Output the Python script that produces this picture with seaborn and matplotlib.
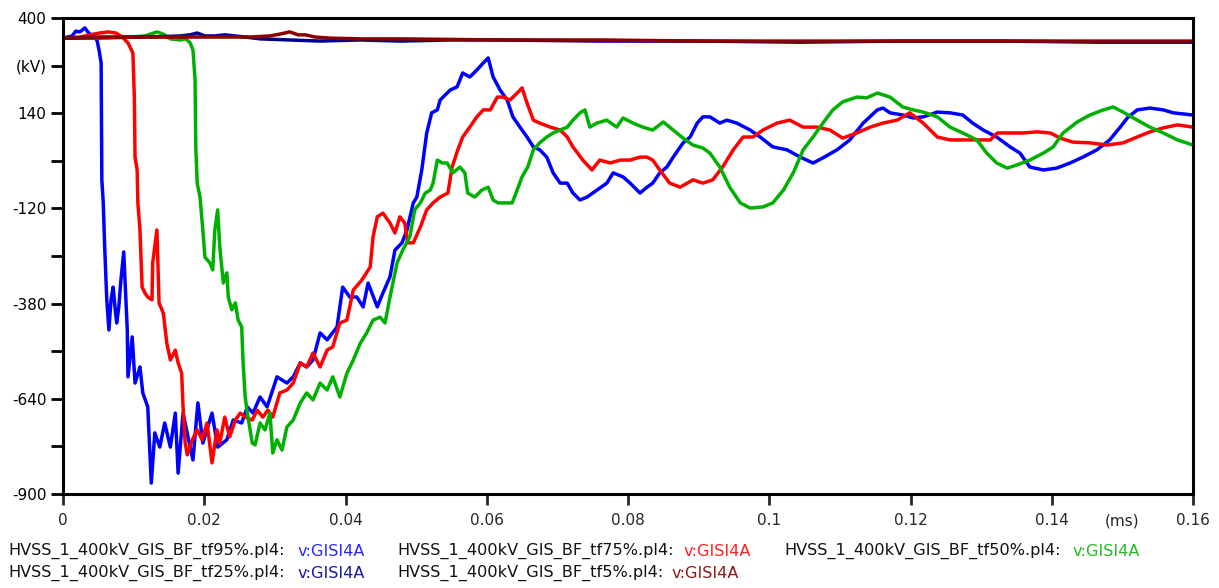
import matplotlib
matplotlib.use("Agg")
import matplotlib.pyplot as plt
import seaborn as sns
import pandas as pd

# Time axis in ms, voltage at GISI4A in kV, one trace per front-time case
t95 = [0, 0.0013, 0.0018, 0.0024, 0.0031, 0.0035, 0.0041, 0.0045, 0.0048, 0.0051, 0.0054, 0.0055,
       0.0057, 0.0059, 0.0062, 0.0065, 0.0068, 0.0071, 0.0074, 0.0076, 0.0079, 0.0082, 0.0086,
       0.0091, 0.0092, 0.0098, 0.0102, 0.0109, 0.0113, 0.0120, 0.0125, 0.0130, 0.0137, 0.0144,
       0.0152, 0.0159, 0.0163, 0.0170, 0.0177, 0.0184, 0.0191, 0.0198, 0.0211, 0.0219, 0.0232,
       0.0241, 0.0253, 0.0261, 0.0269, 0.0279, 0.0289, 0.0303, 0.0317, 0.0326, 0.0336, 0.0345,
       0.0354, 0.0364, 0.0374, 0.0388, 0.0396, 0.0406, 0.0416, 0.0425, 0.0432, 0.0445, 0.0453,
       0.0463, 0.0470, 0.0480, 0.0487, 0.0496, 0.0501, 0.0508, 0.0515, 0.0522, 0.0530, 0.0534,
       0.0544, 0.0548, 0.0558, 0.0566, 0.0576, 0.0586, 0.0595, 0.0602, 0.0609, 0.0619, 0.0629,
       0.0637, 0.0647, 0.0657, 0.0666, 0.0675, 0.0685, 0.0694, 0.0704, 0.0714, 0.0722, 0.0732,
       0.0742, 0.0756, 0.0770, 0.0779, 0.0793, 0.0803, 0.0817, 0.0827, 0.0835, 0.0845, 0.0855,
       0.0864, 0.0878, 0.0888, 0.0898, 0.0906, 0.0916, 0.0930, 0.0940, 0.0954, 0.0973, 0.0987,
       0.1005, 0.1025, 0.1044, 0.1062, 0.1076, 0.1096, 0.1114, 0.1133, 0.1153, 0.1161, 0.1171,
       0.1189, 0.1204, 0.1218, 0.1238, 0.1256, 0.1274, 0.1288, 0.1303, 0.1322, 0.1341, 0.1355,
       0.1369, 0.1388, 0.1407, 0.1426, 0.1444, 0.1464, 0.1482, 0.1497, 0.1507, 0.1521, 0.1539,
       0.1558, 0.1572, 0.1600]
v95 = [345, 351, 364, 362, 373, 362, 351, 345, 340, 313, 277, -42,
       -105, -225, -370, -452, -370, -335, -397, -433, -389, -316, -239,
       -452, -580, -471, -597, -553, -624, -662, -870, -733, -772, -706,
       -772, -679, -843, -679, -744, -807, -651, -761, -679, -772, -752,
       -698, -706, -662, -679, -635, -662, -580, -597, -580, -542, -553,
       -534, -460, -479, -444, -335, -362, -362, -389, -324, -389, -351,
       -307, -234, -214, -179, -105, -89, -15, 86, 141, 149, 176,
       195, 203, 212, 250, 239, 258, 277, 291, 239, 203, 176,
       130, 102, 75, 48, 40, 20, -23, -51, -51, -78, -97,
       -89, -70, -51, -23, -34, -51, -78, -62, -51, -23, -7,
       20, 59, 75, 113, 130, 130, 113, 121, 113, 94, 75,
       48, 40, 20, 4, 18, 40, 67, 113, 149, 154, 141,
       135, 127, 130, 143, 141, 135, 113, 94, 75, 48, 31,
       -7, -15, -10, 4, 20, 40, 67, 102, 127, 149, 154,
       149, 141, 135]

t75 = [0, 0.0024, 0.0038, 0.0052, 0.0064, 0.0075, 0.0084, 0.0092, 0.0099, 0.0101, 0.0102, 0.0105,
       0.0106, 0.0109, 0.0112, 0.0116, 0.0120, 0.0126, 0.0127, 0.0133, 0.0136, 0.0142, 0.0147,
       0.0152, 0.0159, 0.0163, 0.0168, 0.0170, 0.0173, 0.0176, 0.0183, 0.0190, 0.0197, 0.0204,
       0.0211, 0.0218, 0.0222, 0.0229, 0.0236, 0.0244, 0.0251, 0.0258, 0.0268, 0.0275, 0.0283,
       0.0290, 0.0297, 0.0307, 0.0317, 0.0326, 0.0336, 0.0345, 0.0354, 0.0364, 0.0374, 0.0382,
       0.0392, 0.0402, 0.0411, 0.0423, 0.0435, 0.0439, 0.0445, 0.0453, 0.0463, 0.0470, 0.0477,
       0.0484, 0.0488, 0.0496, 0.0506, 0.0515, 0.0524, 0.0534, 0.0545, 0.0551, 0.0559, 0.0566,
       0.0576, 0.0586, 0.0595, 0.0605, 0.0615, 0.0623, 0.0633, 0.0643, 0.0650, 0.0657, 0.0666,
       0.0675, 0.0690, 0.0704, 0.0714, 0.0722, 0.0736, 0.0749, 0.0760, 0.0775, 0.0789, 0.0803,
       0.0817, 0.0827, 0.0835, 0.0845, 0.0859, 0.0874, 0.0892, 0.0906, 0.0920, 0.0934, 0.0949,
       0.0963, 0.0977, 0.0991, 0.1011, 0.1029, 0.1048, 0.1068, 0.1086, 0.1104, 0.1124, 0.1143,
       0.1161, 0.1181, 0.1199, 0.1218, 0.1238, 0.1256, 0.1274, 0.1294, 0.1313, 0.1323, 0.1341,
       0.1359, 0.1379, 0.1398, 0.1412, 0.1430, 0.1454, 0.1478, 0.1501, 0.1521, 0.1539, 0.1558,
       0.1578, 0.1600]
v75 = [345, 348, 354, 359, 362, 359, 348, 332, 304, 184, 20, -15,
       -105, -179, -335, -351, -362, -370, -269, -179, -378, -406, -488,
       -534, -507, -542, -570, -662, -761, -793, -752, -725, -752, -706,
       -815, -725, -761, -690, -744, -698, -679, -690, -698, -671, -690,
       -671, -690, -624, -616, -597, -542, -553, -515, -553, -507, -498,
       -433, -425, -343, -316, -280, -198, -143, -133, -160, -187, -143,
       -160, -214, -214, -171, -124, -105, -89, -78, -7, 40, 75,
       102, 130, 149, 149, 184, 184, 176, 195, 209, 168, 121,
       113, 102, 94, 75, 48, 12, -15, 12, 4, 12, 12,
       20, 20, 12, -15, -51, -62, -42, -51, -42, -7, 40,
       75, 75, 94, 113, 121, 102, 102, 94, 72, 86, 102,
       113, 121, 141, 113, 75, 67, 67, 67, 67, 86, 86,
       86, 89, 86, 72, 61, 59, 53, 59, 75, 89, 100,
       108, 102]

t50 = [0, 0.0052, 0.0095, 0.0116, 0.0133, 0.0142, 0.0152, 0.0166, 0.0174, 0.0180, 0.0184, 0.0187,
       0.0188, 0.0190, 0.0194, 0.0198, 0.0201, 0.0208, 0.0212, 0.0215, 0.0219, 0.0222, 0.0227,
       0.0232, 0.0234, 0.0239, 0.0244, 0.0248, 0.0253, 0.0255, 0.0258, 0.0261, 0.0268, 0.0272,
       0.0279, 0.0286, 0.0293, 0.0297, 0.0303, 0.0310, 0.0317, 0.0326, 0.0336, 0.0345, 0.0354,
       0.0364, 0.0374, 0.0382, 0.0392, 0.0402, 0.0411, 0.0421, 0.0430, 0.0439, 0.0449, 0.0456,
       0.0463, 0.0473, 0.0481, 0.0491, 0.0498, 0.0506, 0.0513, 0.0520, 0.0524, 0.0530, 0.0537,
       0.0544, 0.0552, 0.0562, 0.0569, 0.0573, 0.0583, 0.0593, 0.0602, 0.0609, 0.0616, 0.0626,
       0.0636, 0.0643, 0.0650, 0.0658, 0.0666, 0.0675, 0.0685, 0.0694, 0.0704, 0.0714, 0.0722,
       0.0732, 0.0739, 0.0746, 0.0756, 0.0770, 0.0784, 0.0793, 0.0807, 0.0821, 0.0835, 0.0850,
       0.0864, 0.0878, 0.0892, 0.0906, 0.0916, 0.0930, 0.0944, 0.0959, 0.0973, 0.0991, 0.1005,
       0.1020, 0.1034, 0.1048, 0.1062, 0.1076, 0.1090, 0.1104, 0.1124, 0.1138, 0.1153, 0.1171,
       0.1189, 0.1204, 0.1218, 0.1238, 0.1256, 0.1274, 0.1294, 0.1308, 0.1322, 0.1337, 0.1351,
       0.1369, 0.1388, 0.1402, 0.1416, 0.1436, 0.1454, 0.1473, 0.1487, 0.1501, 0.1521, 0.1539,
       0.1558, 0.1578, 0.1600]
v50 = [345, 345, 348, 351, 362, 356, 343, 340, 343, 332, 313, 231,
       48, -51, -89, -179, -253, -269, -288, -179, -124, -225, -324,
       -296, -362, -397, -378, -425, -444, -542, -635, -679, -761, -766,
       -706, -725, -679, -788, -752, -780, -717, -698, -651, -624, -643,
       -597, -616, -580, -635, -570, -534, -488, -460, -425, -417, -433,
       -362, -269, -234, -198, -124, -105, -78, -70, -51, 12, 4,
       4, -23, -7, -23, -78, -89, -70, -62, -97, -105, -105,
       -105, -70, -34, -7, 40, 59, 75, 86, 94, 102, 121,
       141, 149, 102, 113, 121, 102, 127, 113, 102, 94, 116,
       94, 72, 53, 45, 31, -7, -62, -105, -119, -116, -105,
       -70, -23, 40, 75, 113, 149, 171, 184, 182, 195, 184,
       157, 149, 143, 130, 102, 86, 67, 31, 4, -10, -1,
       12, 31, 48, 86, 116, 135, 149, 157, 143, 121, 102,
       86, 67, 53]

t25 = [0, 0.0052, 0.0123, 0.0166, 0.0180, 0.0190, 0.0201, 0.0215, 0.0229, 0.0258, 0.0279, 0.0321,
       0.0364, 0.0421, 0.0477, 0.0548, 0.0619, 0.0760, 0.0902, 0.1044, 0.1185, 0.1327, 0.1468,
       0.1600]
v25 = [345, 348, 348, 351, 354, 359, 351, 351, 354, 348, 343, 340,
       337, 340, 337, 340, 340, 337, 337, 334, 337, 337, 334,
       334]

t5 = [0, 0.0123, 0.0265, 0.0293, 0.0307, 0.0321, 0.0333, 0.0343, 0.0357, 0.0378, 0.0421, 0.0477,
      0.0619, 0.0760, 0.0902, 0.1044, 0.1185, 0.1327, 0.1468, 0.1600]
v5 = [345, 348, 348, 351, 356, 362, 354, 354, 348, 345, 343, 343,
      340, 340, 337, 337, 337, 337, 337, 337]

case_names = ["tf95%", "tf75%", "tf50%", "tf25%", "tf5%"]
case_colors = ["#0000ff", "#ff0000", "#00b000", "#000090", "#8b0000"]
label_colors = ["#2a2aff", "#ff2020", "#22bb22", "#1a1a9a", "#8b1a1a"]
y_major = [400, 140, -120, -380, -640, -900]
y_minor = [270, 10, -250, -510, -770]
y_minor_labels = ["(kV)", "", "", "", ""]
x_major = [0, 0.02, 0.04, 0.06, 0.08, 0.10, 0.12, 0.14, 0.16]
x_major_labels = ["0", "0.02", "0.04", "0.06", "0.08", "0.1", "0.12", "0.14", "0.16"]

series = [(t95, v95), (t75, v75), (t50, v50), (t25, v25), (t5, v5)]
frames = []
for name, (tt, vv) in zip(case_names, series):
    frames.append(pd.DataFrame({"t": tt, "v": vv, "case": name}))
data = pd.concat(frames, ignore_index=True)

sns.set_style("white")
plt.rcParams["font.family"] = ["DejaVu Sans"]

W, H = 1219, 588
fig = plt.figure(figsize=(W / 100, H / 100), dpi=100)
ax = fig.add_axes([63 / W, 1 - 494 / H, (1193 - 63) / W, (494 - 18) / H])

for name, col in zip(case_names, case_colors):
    sub = data[data["case"] == name]
    sns.lineplot(data=sub, x="t", y="v", ax=ax, color=col, linewidth=2.5,
                 sort=False, estimator=None, legend=False)

ax.set_xlim(0, 0.16)
ax.set_ylim(-900, 400)
ax.set_xlabel("")
ax.set_ylabel("")

ax.set_yticks(y_major)
ax.set_yticklabels([str(v) for v in y_major])
ax.set_yticks(y_minor, minor=True)
ax.set_yticklabels(y_minor_labels, minor=True)
ax.set_xticks(x_major)
ax.set_xticklabels(x_major_labels)
ax.set_xticks([0.15], minor=True)
ax.set_xticklabels(["(ms)"], minor=True)

ax.tick_params(axis="y", which="both", direction="out", length=9, width=2.0,
               labelsize=11, pad=3, left=True, colors="black")
ax.tick_params(axis="x", which="major", direction="out", length=8, width=2.0,
               labelsize=11, pad=6, bottom=True)
ax.tick_params(axis="x", which="minor", length=0, labelsize=11, pad=14)

for side in ["left", "bottom", "right", "top"]:
    ax.spines[side].set_visible(True)
    ax.spines[side].set_color("black")
    ax.spines[side].set_linewidth(2.2)

# Trace labels under the plot: file name in black, signal name in the trace colour
file_prefix = "HVSS_1_400kV_GIS_BF_"
legend_slots = [(8, 551, 298), (397, 551, 684), (784, 551, 1073),
                (8, 573, 298), (397, 573, 672)]
for (x0, y0, x1), name, lc in zip(legend_slots, case_names, label_colors):
    fig.text(x0 / W, 1 - y0 / H, f"{file_prefix}{name}.pl4:", color="#111111",
             fontsize=11.6, va="center", ha="left")
    fig.text(x1 / W, 1 - y0 / H, "v:GISI4A", color=lc,
             fontsize=11.6, va="center", ha="left")

fig.savefig("out.png", dpi=100, facecolor="white")
